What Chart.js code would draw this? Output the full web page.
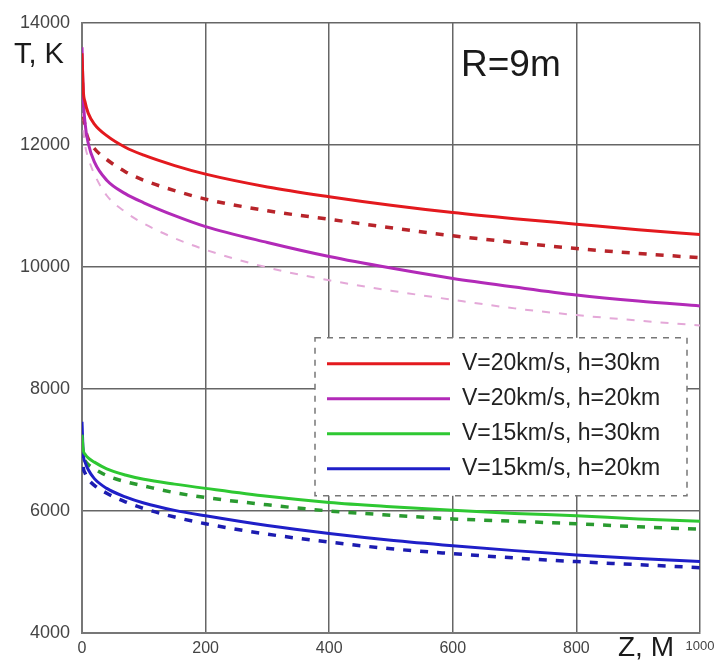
<!DOCTYPE html>
<html>
<head>
<meta charset="utf-8">
<script src="https://cdn.jsdelivr.net/npm/chart.js@4.4.0/dist/chart.umd.min.js"></script>
<style>
  html, body { margin: 0; padding: 0; background: #fff; }
  #wrap { width: 728px; height: 663px; }
</style>
</head>
<body>
<div id="wrap"><canvas id="chart" width="728" height="663"></canvas></div>

<script>
// distance Z, m
var zValues = [0, 2, 5, 10, 20, 40, 70, 100, 150, 200, 300, 400, 500, 600, 700, 800, 900, 1000];

// temperature T, K (solid = first model, dashed = second model)
var v20h30 = [13500, 12900, 12700, 12520, 12340, 12150, 11960, 11830, 11660, 11520, 11310, 11150, 11010, 10890, 10790, 10700, 10610, 10530];
var v20h30d = [13300, 12600, 12300, 12100, 11940, 11760, 11560, 11420, 11250, 11110, 10920, 10780, 10640, 10510, 10400, 10300, 10220, 10150];
var v20h20 = [13600, 12800, 12350, 12030, 11720, 11420, 11200, 11050, 10840, 10660, 10400, 10170, 9980, 9810, 9670, 9540, 9440, 9360];
var v20h20d = [12800, 12300, 12000, 11790, 11520, 11170, 10900, 10710, 10470, 10280, 9990, 9780, 9610, 9460, 9320, 9210, 9120, 9040];
var v15h30 = [7250, 7000, 6930, 6870, 6800, 6690, 6590, 6520, 6440, 6370, 6240, 6140, 6070, 6010, 5960, 5920, 5870, 5830];
var v15h30d = [7100, 6900, 6820, 6760, 6690, 6580, 6480, 6410, 6300, 6220, 6100, 6000, 5930, 5870, 5830, 5790, 5740, 5700];
var v15h20 = [7460, 6950, 6800, 6680, 6530, 6370, 6230, 6130, 6010, 5920, 5760, 5630, 5520, 5430, 5350, 5280, 5220, 5170];
var v15h20d = [7000, 6720, 6620, 6520, 6420, 6290, 6150, 6040, 5900, 5790, 5620, 5490, 5380, 5300, 5230, 5170, 5120, 5070];

var seriesLabels = ['V=20km/s, h=30km', 'V=20km/s, h=20km', 'V=15km/s, h=30km', 'V=15km/s, h=20km'];
var seriesColors = ['#e3191e', '#b22ab8', '#2ec832', '#1f1fc8'];

var xTicks = [0, 200, 400, 600, 800, 1000];
var yTicks = [4000, 6000, 8000, 10000, 12000, 14000];

function pts(arr) {
    return zValues.map(function(z, i) { return {x: z, y: arr[i]}; });
}

function line(arr, color, width, dash) {
    return {
        data: pts(arr),
        borderColor: color,
        borderWidth: width,
        borderDash: dash || [],
        pointRadius: 0,
        fill: false,
        cubicInterpolationMode: 'monotone'
    };
}

var datasets = [
    line(v20h30, seriesColors[0], 3),
    line(v20h20, seriesColors[1], 3),
    line(v15h30, seriesColors[2], 3),
    line(v15h20, seriesColors[3], 3),
    line(v20h30d, '#b8242a', 3.5, [8, 9]),
    line(v15h30d, '#2a9a30', 3.5, [8, 9]),
    line(v15h20d, '#1c1cb0', 3.5, [8, 9]),
    line(v20h20d, '#e4a8d8', 2, [8, 9])
];

// legend box, axis titles and R=9m label
var extras = {
    id: 'extras',
    afterDraw: function(chart) {
        var c = chart.ctx;
        var a = chart.chartArea;
        c.save();

        // legend
        var lx = a.left + 233, ly = a.top + 315, lw = 372, lh = 158;
        c.fillStyle = '#fff';
        c.fillRect(lx, ly, lw, lh);
        c.setLineDash([6, 6]);
        c.strokeStyle = '#777';
        c.lineWidth = 1.5;
        c.strokeRect(lx, ly, lw, lh);
        c.setLineDash([]);
        c.font = '23px "Liberation Sans", Arial, sans-serif';
        c.textBaseline = 'middle';
        c.textAlign = 'left';
        for (var i = 0; i < seriesLabels.length; i++) {
            var y = ly + 26 + i * 35;
            c.strokeStyle = seriesColors[i];
            c.lineWidth = 3;
            c.beginPath();
            c.moveTo(lx + 12, y);
            c.lineTo(lx + 135, y);
            c.stroke();
            c.fillStyle = '#222';
            c.fillText(seriesLabels[i], lx + 147, y);
        }

        // R=9m
        c.font = '37px "Liberation Sans", Arial, sans-serif';
        c.fillStyle = '#1a1a1a';
        c.textAlign = 'left';
        c.fillText('R=9m', 461, 66);

        // axis titles
        c.font = '29px "Liberation Sans", Arial, sans-serif';
        c.fillText('T, K', 14, 55);
        c.font = '28px "Liberation Sans", Arial, sans-serif';
        c.fillText('Z, M', 618, 648);
        c.restore();
    }
};

var ctx = document.getElementById('chart');
var myChart = new Chart(ctx, {
    type: 'line',
    data: { datasets: datasets },
    options: {
        responsive: false,
        animation: false,
        layout: { padding: { left: 0, right: 28, top: 17, bottom: 0 } },
        plugins: {
            legend: { display: false },
            tooltip: { enabled: false }
        },
        scales: {
            x: {
                type: 'linear',
                min: 0,
                max: 1000,
                afterBuildTicks: function(s) { s.ticks = xTicks.map(function(v) { return {value: v}; }); },
                afterFit: function(s) { s.height = 30; },
                grid: { color: '#666', lineWidth: 1.5, drawTicks: false },
                border: { color: '#777', width: 2 },
                ticks: {
                    padding: 6,
                    maxRotation: 0,
                    autoSkip: false,
                    color: '#444',
                    callback: function(v) { return String(v); },
                    font: function(c) {
                        var small = c.tick && c.tick.value === 1000;
                        return { family: '"Liberation Sans", Arial, sans-serif', size: small ? 13 : 16 };
                    }
                }
            },
            y: {
                type: 'linear',
                min: 4000,
                max: 14000,
                afterBuildTicks: function(s) { s.ticks = yTicks.map(function(v) { return {value: v}; }); },
                afterFit: function(s) { s.width = 82; },
                grid: { color: '#666', lineWidth: 1.5, drawTicks: false },
                border: { color: '#777', width: 2 },
                ticks: {
                    padding: 12,
                    color: '#444',
                    callback: function(v) { return String(v); },
                    font: { family: '"Liberation Sans", Arial, sans-serif', size: 18 }
                }
            }
        }
    },
    plugins: [extras]
});
</script>
</body>
</html>
